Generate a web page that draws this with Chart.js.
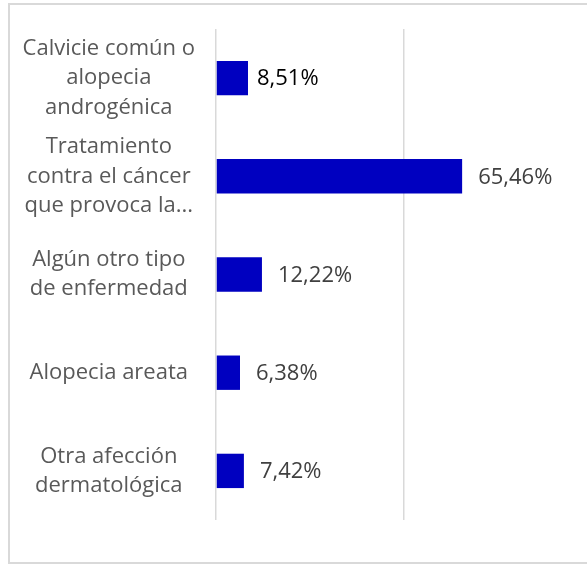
<!DOCTYPE html>
<html>
<head>
<meta charset="utf-8">
<script src="https://cdn.jsdelivr.net/npm/chart.js@4"></script>
<style>
  html, body { margin: 0; padding: 0; overflow: hidden; background: #fff; }
  #frame {
    position: absolute; left: 8px; top: 3px; width: 620px; height: 561px;
    border: 2px solid #d9d9d9; box-sizing: border-box;
  }
  #wrap { position: absolute; left: 0; top: 0; width: 600px; height: 567px; }
</style>
</head>
<body>
<div id="frame"></div>
<div id="wrap"><canvas id="chart"></canvas></div>
<script>
const categories = [
  ["Calvicie común o", "alopecia", "androgénica"],
  ["Tratamiento", "contra el cáncer", "que provoca la..."],
  ["Algún otro tipo", "de enfermedad"],
  "Alopecia areata",
  ["Otra afección", "dermatológica"],
];
const values = [8.51, 65.46, 12.22, 6.38, 7.42];
const valueLabels = ["8,51%", "65,46%", "12,22%", "6,38%", "7,42%"];
const labelColors = ["#000000", "#404040", "#404040", "#404040", "#404040"];
const labelGaps = [9, 16, 16, 16, 16];

const FONT = "'Open Sans', 'Noto Sans', sans-serif";

// draws the value text just right of each bar
const valueLabelPlugin = {
  id: "valueLabels",
  afterDatasetsDraw(chart) {
    const { ctx } = chart;
    const meta = chart.getDatasetMeta(0);
    ctx.save();
    ctx.font = "22px " + FONT;
    ctx.textBaseline = "middle";
    ctx.textAlign = "left";
    meta.data.forEach((bar, i) => {
      ctx.fillStyle = labelColors[i];
      ctx.fillText(valueLabels[i], bar.x + labelGaps[i], bar.y + 1);
    });
    ctx.restore();
  },
};

new Chart(document.getElementById("chart"), {
  type: "bar",
  data: {
    labels: categories,
    datasets: [
      {
        data: values,
        backgroundColor: "#0000C0",
        barPercentage: 0.7,
        categoryPercentage: 0.5,
      },
    ],
  },
  options: {
    indexAxis: "y",
    responsive: true,
    maintainAspectRatio: false,
    animation: false,
    layout: { padding: { top: 29, bottom: 47, left: 0, right: 8 } },
    plugins: {
      legend: { display: false },
      tooltip: { enabled: false },
    },
    scales: {
      x: {
        min: 0,
        max: 100,
        ticks: { display: false, stepSize: 50 },
        grid: { color: "#d9d9d9", lineWidth: 1.5, drawTicks: false },
        border: { display: false },
        afterFit: (scale) => { scale.height = 0; },
      },
      y: {
        afterFit: (scale) => {
          scale.width = 216;
          scale.paddingTop = 0;
          scale.paddingBottom = 0;
        },
        ticks: {
          color: "#595959",
          padding: 21,
          crossAlign: "center",
          font: { family: FONT, size: 22, lineHeight: 1.33 },
        },
        grid: { display: false, drawTicks: false },
        border: { display: false },
      },
    },
  },
  plugins: [valueLabelPlugin],
});
</script>
</body>
</html>
